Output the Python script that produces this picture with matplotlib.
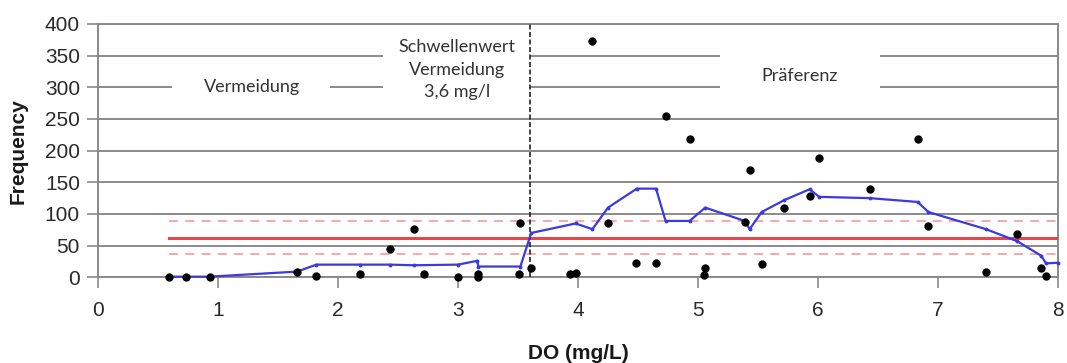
import matplotlib
matplotlib.use("Agg")
import matplotlib.pyplot as plt
from matplotlib.patches import Rectangle

# ---- data ----
scatter_x = [0.59, 0.73, 0.93, 1.66, 1.82, 2.18, 2.43, 2.63, 2.72, 3.00, 3.17, 3.17,
             3.51, 3.52, 3.61, 3.93, 3.98, 4.12, 4.25, 4.48, 4.65, 4.73, 4.93,
             5.06, 5.05, 5.39, 5.43, 5.53, 5.72, 5.93, 6.01, 6.43, 6.83, 6.92,
             7.40, 7.66, 7.86, 7.90]
scatter_y = [0, 1, 0, 9, 2, 5, 44, 76, 5, 1, 5, 0,
             5, 85, 15, 5, 7, 373, 85, 22, 22, 255, 218,
             14, 4, 88, 170, 21, 110, 128, 189, 140, 218, 81,
             9, 69, 15, 2]

line_x = [0.59, 0.93, 1.66, 1.82, 2.18, 2.43, 2.63, 3.00, 3.16, 3.17, 3.52, 3.61,
          3.98, 4.12, 4.25, 4.49, 4.65, 4.73, 4.93, 5.06, 5.39, 5.43, 5.53,
          5.72, 5.93, 6.01, 6.43, 6.83, 6.92, 7.40, 7.66, 7.86, 7.90, 8.00]
line_y = [1, 1, 9, 20, 20, 20, 19, 20, 26, 17, 17, 70,
          85, 76, 110, 140, 140, 89, 89, 110, 89, 76, 103,
          122, 139, 127, 125, 119, 103, 76, 57, 34, 22, 23]

mean_value = 62.5
upper_value = 89.5
lower_value = 36.5
band_x = [0.59, 8.0]
threshold = 3.6

x_ticks = [0, 1, 2, 3, 4, 5, 6, 7, 8]
y_ticks = [0, 50, 100, 150, 200, 250, 300, 350, 400]

label_avoid = "Vermeidung"
label_threshold = "Schwellenwert\nVermeidung\n3,6 mg/l"
label_pref = "Präferenz"
x_label = "DO (mg/L)"
y_label = "Frequency"

# ---- figure ----
fig = plt.figure(figsize=(10.67, 3.63), dpi=100)
ax = fig.add_axes([0.0918, 0.2361, 0.9916 - 0.0918, 0.9339 - 0.2361])

ax.set_xlim(0, 8)
ax.set_ylim(0, 400)
ax.set_xticks(x_ticks)
ax.set_yticks(y_ticks)

grid_c = "#8a8a8a"
for yv in y_ticks:
    ax.axhline(yv, color=grid_c, lw=1.4, zorder=1)

for s in ["left", "right", "bottom", "top"]:
    ax.spines[s].set_color(grid_c)
    ax.spines[s].set_linewidth(1.4)
ax.tick_params(axis="both", colors=grid_c, length=8, width=1.2)
ax.tick_params(axis="y", pad=5)
ax.tick_params(axis="x", pad=9)
for lab in ax.get_xticklabels() + ax.get_yticklabels():
    lab.set_fontfamily("Liberation Sans")
    lab.set_fontsize(15)
    lab.set_color("#2a2a2a")

ax.set_xlabel(x_label, fontfamily="Liberation Sans", fontsize=15, fontweight="bold",
              color="#1a1a1a", labelpad=17)
ax.set_ylabel(y_label, fontfamily="Liberation Sans", fontsize=15, fontweight="bold",
              color="#1a1a1a", labelpad=12)

# white label boxes
ann_font = dict(family="Lato", size=13, color="#333333")
ax.add_patch(Rectangle((0.62, 283), 1.31, 34, facecolor="white", edgecolor="none", zorder=2))
ax.text(1.28, 300, label_avoid, ha="center", va="center", zorder=3, **ann_font)

ax.add_patch(Rectangle((2.375, 262), 3.6 - 2.375, 128, facecolor="white", edgecolor="none", zorder=2))
ax.text(2.99, 328, label_threshold, ha="center", va="center", zorder=3,
        linespacing=1.5, **ann_font)

ax.add_patch(Rectangle((5.18, 262), 1.34, 128, facecolor="white", edgecolor="none", zorder=2))
ax.text(5.85, 318, label_pref, ha="center", va="center", zorder=3, **ann_font)

# threshold line
ax.axvline(threshold, color="#222222", lw=1.2, ls=(0, (3, 1.5)), zorder=4)

# mean +/- band
ax.plot(band_x, [mean_value] * 2, color="#e5484b", lw=2.2, zorder=3)
ax.plot(band_x, [upper_value] * 2, color="#f2a3a3", lw=1.3, ls=(0, (5, 4)), zorder=3)
ax.plot(band_x, [lower_value] * 2, color="#f2a3a3", lw=1.3, ls=(0, (5, 4)), zorder=3)

# blue line
ax.plot(line_x, line_y, color="#3a3ae0", lw=1.6, marker="o", markersize=1.8, zorder=5,
        clip_on=False)

# scatter points
ax.plot(scatter_x, scatter_y, ls="none", marker="o", markersize=5, color="black", zorder=6,
        clip_on=False)

fig.savefig("out.png", dpi=100)
